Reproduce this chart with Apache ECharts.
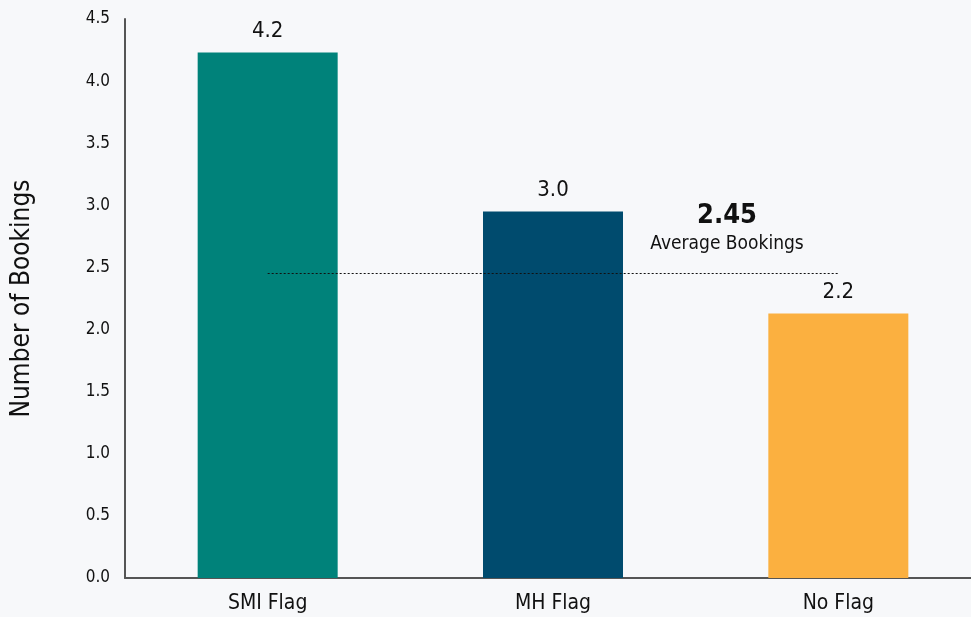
<!DOCTYPE html>
<html>
<head>
<meta charset="utf-8">
<script src="https://cdn.jsdelivr.net/npm/echarts@6/dist/echarts.min.js"></script>
<style>
html,body{margin:0;padding:0;background:#f7f8fa;overflow:hidden;width:971px;height:617px;}
#c{width:981px;height:617px;}
</style>
</head>
<body>
<div id="c"></div>
<script>
var categories = ['SMI Flag', 'MH Flag', 'No Flag'];
var values = [4.23, 2.95, 2.13];
var valueLabels = ['4.2', '3.0', '2.2'];
var colors = ['#00827a', '#004b6e', '#fbb040'];
var avgValue = 2.45;
var avgLabel = 'Average Bookings';

var FONT = '"Liberation Sans Narrow", "DejaVu Sans Condensed", sans-serif';
var chart = echarts.init(document.getElementById('c'), null, {renderer: 'canvas'});
var option = {
  backgroundColor: '#f7f8fa',
  animation: false,
  textStyle: {fontFamily: FONT},
  grid: {left: 125, top: 19, bottom: 39, right: 0, containLabel: false},
  xAxis: {
    type: 'category',
    data: categories,
    axisLine: {lineStyle: {color: '#555', width: 2}},
    axisTick: {show: false},
    axisLabel: {color: '#111', fontSize: 21, fontFamily: FONT, margin: 15}
  },
  yAxis: {
    type: 'value',
    min: 0, max: 4.5, interval: 0.5,
    name: 'Number of Bookings',
    nameLocation: 'middle',
    nameGap: 90,
    nameTextStyle: {color: '#111', fontSize: 26, fontFamily: FONT},
    axisLine: {show: true, lineStyle: {color: '#555', width: 2}},
    axisTick: {show: false},
    splitLine: {show: false},
    axisLabel: {color: '#111', fontSize: 17, fontFamily: FONT, margin: 15,
      formatter: function (v) { return v.toFixed(1); }}
  },
  series: [{
    type: 'bar',
    barWidth: 140,
    data: values.map(function (v, i) {
      return {value: v, itemStyle: {color: colors[i]}};
    }),
    label: {
      show: true, position: 'top', distance: 10,
      color: '#111', fontSize: 22, fontFamily: FONT,
      formatter: function (p) { return valueLabels[p.dataIndex]; }
    },
    markLine: {
      silent: true,
      symbol: 'none',
      label: {show: false},
      lineStyle: {color: '#111', type: [2, 2], width: 1},
      data: [[{coord: [0, avgValue]}, {coord: [2, avgValue]}]]
    }
  }]
};
chart.setOption(option);

var pLine = chart.convertToPixel({gridIndex: 0}, [1, avgValue]);
var pEnd = chart.convertToPixel({gridIndex: 0}, [2, avgValue]);
var cx = pLine[0] + (pEnd[0] - pLine[0]) * 0.61;
chart.setOption({
  graphic: [
    {type: 'text', x: cx, y: pLine[1] - 58, style: {text: avgValue.toFixed(2), font: 'bold 27px ' + FONT, fill: '#111', align: 'center', verticalAlign: 'middle'}},
    {type: 'text', x: cx, y: pLine[1] - 30, style: {text: avgLabel, font: '19px ' + FONT, fill: '#111', align: 'center', verticalAlign: 'middle'}}
  ]
});
</script>
</body>
</html>
